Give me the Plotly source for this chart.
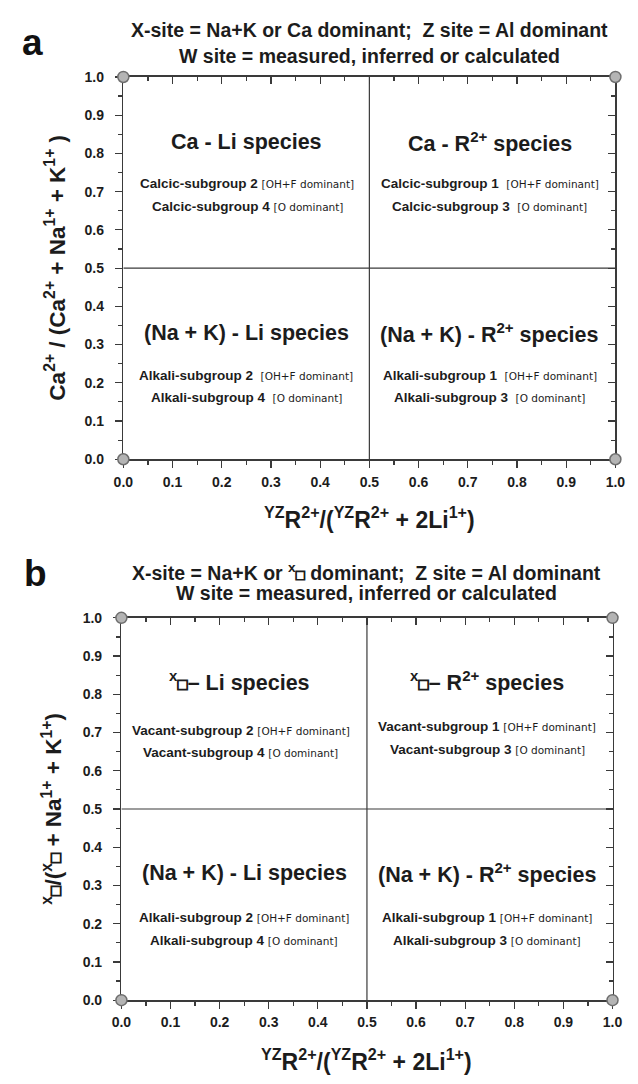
import plotly.graph_objects as go

# ---------------- data ----------------
tick_vals = [0.0, 0.1, 0.2, 0.3, 0.4, 0.5, 0.6, 0.7, 0.8, 0.9, 1.0]
tick_labels = ["0.0", "0.1", "0.2", "0.3", "0.4", "0.5", "0.6", "0.7", "0.8", "0.9", "1.0"]
corner_x = [0.0, 0.0, 1.0, 1.0]
corner_y = [0.0, 1.0, 0.0, 1.0]
divider = 0.5
axis_range = [0.0, 1.0]


def box(size):
    return ("<sup>x</sup><span style='font-size:%gpx;stroke:#1c1c1c;stroke-width:1.1px'>"
            "\u25a1</span>" % size)


panel_letters = ["a", "b"]
title_line1 = [
    "X-site = Na+K or Ca dominant;  Z site = Al dominant",
    "X-site = Na+K or " + box(15) + " dominant;  Z site = Al dominant",
]
title_line2 = [
    "W site = measured, inferred or calculated",
    "W site = measured, inferred or calculated",
]
y_titles = [
    "Ca<sup>2+</sup> / (Ca<sup>2+</sup> + Na<sup>1+</sup> + K<sup>1+</sup> )",
    box(17) + "/(" + box(17) + " + Na<sup>1+</sup> + K<sup>1+</sup>)",
]
x_title = "<sup>YZ</sup>R<sup>2+</sup>/(<sup>YZ</sup>R<sup>2+</sup> + 2Li<sup>1+</sup>)"

# quadrant headings: upper-left, upper-right, lower-left, lower-right
headings = [
    ["Ca - Li species", "Ca - R<sup>2+</sup> species",
     "(Na + K) - Li species", "(Na + K) - R<sup>2+</sup> species"],
    [box(17) + "\u2013 Li species", box(17) + "\u2013 R<sup>2+</sup> species",
     "(Na + K) - Li species", "(Na + K) - R<sup>2+</sup> species"],
]
sub_names = [
    [["Calcic-subgroup 2", "Calcic-subgroup 4"], ["Calcic-subgroup 1", "Calcic-subgroup 3"],
     ["Alkali-subgroup 2", "Alkali-subgroup 4"], ["Alkali-subgroup 1", "Alkali-subgroup 3"]],
    [["Vacant-subgroup 2", "Vacant-subgroup 4"], ["Vacant-subgroup 1", "Vacant-subgroup 3"],
     ["Alkali-subgroup 2", "Alkali-subgroup 4"], ["Alkali-subgroup 1", "Alkali-subgroup 3"]],
]
sub_notes = ["[OH+F dominant]", "[O dominant]"]
sub_gap = [[" ", "  ", "  ", "  "], [" ", " ", " ", " "]]

# ---------------- layout helpers ----------------
W, H = 638, 1084
FONT = "Liberation Sans, Arial, Helvetica, sans-serif"
INK = "#1c1c1c"
AX = "#3a3a3a"


def px(x):
    return x / W


def py(y):
    return 1 - y / H


# panel pixel boxes: (left, right, top, bottom)
boxes = [(117, 625, 70, 458), (115, 622, 619, 1007)]
letter_pos = [(23, 35), (26, 574)]
title_pos = [(22, 49), (572, 594)]
ytitle_x = [47, 43]
xtitle_y = [518, 1068]

heading_x = [[0.25, 0.745, 0.25, 0.745], [0.24, 0.745, 0.25, 0.745]]
heading_y = [[0.83, 0.83, 0.33, 0.33], [0.835, 0.835, 0.332, 0.332]]
sub_x = [[0.252, 0.745, 0.25, 0.745], [0.243, 0.745, 0.25, 0.745]]
sub_y = [[[0.722, 0.662], [0.722, 0.662], [0.219, 0.162], [0.219, 0.162]],
         [[0.705, 0.648], [0.716, 0.656], [0.216, 0.156], [0.216, 0.156]]]

fig = go.Figure()
annotations = []
layout = dict(
    width=W, height=H, margin=dict(l=0, r=0, t=0, b=0),
    paper_bgcolor="white", plot_bgcolor="white", showlegend=False,
    font=dict(family=FONT, color=INK),
)

for p in range(2):
    L, R, T, B = boxes[p]
    xb = "x" if p == 0 else "x3"
    yb = "y" if p == 0 else "y3"
    xt = "x2" if p == 0 else "x4"
    yt = "y2" if p == 0 else "y4"
    xkey = "xaxis" if p == 0 else "xaxis3"
    ykey = "yaxis" if p == 0 else "yaxis3"
    xkey2 = "xaxis2" if p == 0 else "xaxis4"
    ykey2 = "yaxis2" if p == 0 else "yaxis4"
    xdom = [px(L), px(R)]
    ydom = [py(B), py(T)]

    common = dict(range=axis_range, showgrid=False, zeroline=False, showline=True,
                  linecolor=AX, linewidth=1.5, tickcolor=AX, tickwidth=1.2,
                  ticklen=7, layer="below traces", fixedrange=True)
    minor_out = dict(ticks="outside", ticklen=4, tickcolor=AX, tickwidth=1.2,
                     tickmode="linear", tick0=0, dtick=0.05)
    minor_in = dict(minor_out, ticks="inside")
    tfont = dict(family=FONT, size=14, color=INK, weight="bold")
    layout[xkey] = dict(common, domain=xdom, anchor=yb, ticks="outside",
                        tickmode="array", tickvals=tick_vals, ticktext=tick_labels,
                        tickfont=tfont, ticklabelstandoff=2, minor=minor_out)
    layout[ykey] = dict(common, domain=ydom, anchor=xb, ticks="outside",
                        tickmode="array", tickvals=tick_vals, ticktext=tick_labels,
                        tickfont=tfont, ticklabelstandoff=8, minor=minor_out)
    layout[xkey2] = dict(common, overlaying=xb, anchor=yt, side="top", ticks="inside",
                         tickmode="array", tickvals=tick_vals, showticklabels=False,
                         minor=minor_in)
    layout[ykey2] = dict(common, overlaying=yb, anchor=xt, side="right", ticks="inside",
                         tickmode="array", tickvals=tick_vals, showticklabels=False,
                         minor=minor_in)

    # divider lines
    fig.add_trace(go.Scatter(x=[divider, divider], y=axis_range, mode="lines",
                             line=dict(color=AX, width=1.2), xaxis=xb, yaxis=yb,
                             hoverinfo="skip"))
    fig.add_trace(go.Scatter(x=axis_range, y=[divider, divider], mode="lines",
                             line=dict(color=AX, width=1.2), xaxis=xb, yaxis=yb,
                             hoverinfo="skip"))
    # corner markers (on the overlay subplot so they sit above the frame)
    fig.add_trace(go.Scatter(x=corner_x, y=corner_y, mode="markers", cliponaxis=False,
                             marker=dict(size=11, color="#b4b4b4",
                                         line=dict(color="#6e6e6e", width=1.5)),
                             xaxis=xt, yaxis=yt, hoverinfo="skip"))

    # panel letter
    annotations.append(dict(text="<b>%s</b>" % panel_letters[p], xref="paper", yref="paper",
                            x=px(letter_pos[p][0]), y=py(letter_pos[p][1]),
                            xanchor="center", yanchor="middle", showarrow=False,
                            font=dict(size=37, color="#111", family=FONT)))
    # titles
    cx = (L + R) / 2
    for txt, yy in ((title_line1[p], title_pos[p][0]), (title_line2[p], title_pos[p][1])):
        annotations.append(dict(text="<b>%s</b>" % txt, xref="paper", yref="paper",
                                x=px(cx), y=py(yy), xanchor="center", yanchor="middle",
                                showarrow=False, font=dict(size=19.5, color=INK, family=FONT)))
    # axis titles
    annotations.append(dict(text="<b>%s</b>" % y_titles[p], xref="paper", yref="paper",
                            x=px(ytitle_x[p]), y=py((T + B) / 2), textangle=-90,
                            xanchor="center", yanchor="middle", showarrow=False,
                            font=dict(size=22.5, color=INK, family=FONT)))
    annotations.append(dict(text="<b>%s</b>" % x_title, xref="paper", yref="paper",
                            x=px(cx), y=py(xtitle_y[p]), xanchor="center", yanchor="middle",
                            showarrow=False, font=dict(size=23, color=INK, family=FONT)))

    # quadrant text
    for q in range(4):
        annotations.append(dict(text="<b>%s</b>" % headings[p][q], xref=xb, yref=yb,
                                x=heading_x[p][q], y=heading_y[p][q], xanchor="center",
                                yanchor="middle", showarrow=False,
                                font=dict(size=21.5, color=INK, family=FONT)))
        for k in range(2):
            txt = ("<b>%s</b>%s<span style='font-family:DejaVu Sans;font-size:10.5px'>%s</span>"
                   % (sub_names[p][q][k], sub_gap[p][q], sub_notes[k]))
            annotations.append(dict(text=txt, xref=xb, yref=yb, x=sub_x[p][q],
                                    y=sub_y[p][q][k], xanchor="center", yanchor="middle",
                                    showarrow=False,
                                    font=dict(size=13.5, color=INK, family=FONT)))

layout["annotations"] = annotations
fig.update_layout(**layout)

fig.write_html("out.html", config={"displayModeBar": False, "staticPlot": True},
               post_script="document.body.style.margin='0';document.body.style.overflow='hidden';")
